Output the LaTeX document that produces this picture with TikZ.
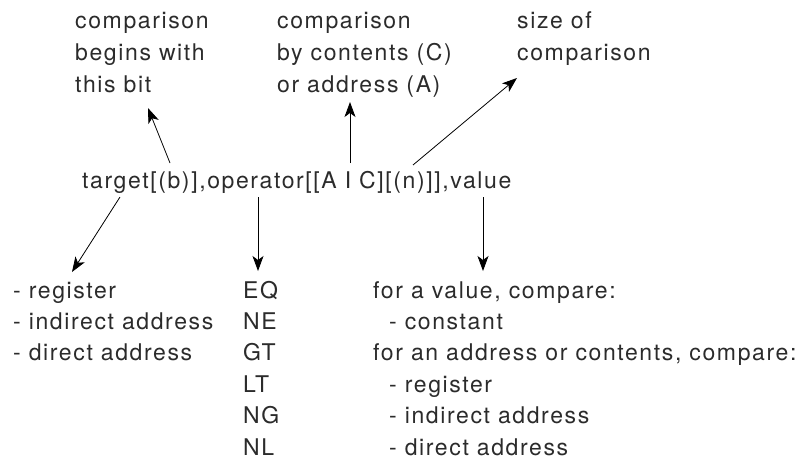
\documentclass[tikz,border=0pt]{standalone}
\usepackage{fontspec}
\setmainfont{TeX Gyre Heros}[LetterSpace=7]
\usepackage{xcolor}
\usetikzlibrary{arrows.meta,positioning,calc}
\definecolor{inkgray}{HTML}{2B2B2B}

\begin{document}
\begin{tikzpicture}[
		x=1pt, y=-1pt,
		txt/.style={anchor=base west, inner sep=0pt, text=inkgray, font=\fontsize{23}{27}\selectfont},
		pointer/.style={-{Stealth[length=15pt,width=11pt,inset=4pt]}, line width=0.8pt},
		]
	\useasboundingbox (0,0) rectangle (809,461);

	% --- notes above ---
	\node[txt] (bitA) at (75,28) {comparison};
	\node[txt] (bitB) at (75,60) {begins with};
	\node[txt] (bitC) at (75,92) {this bit};

	\node[txt] (modeA) at (277,28) {comparison};
	\node[txt] (modeB) at (277,60) {by contents (C)};
	\node[txt] (modeC) at (277,92) {or address (A)};

	\node[txt] (sizeA) at (517,28) {size of};
	\node[txt] (sizeB) at (517,60) {comparison};

	% --- the format line ---
	\node[txt] (fmt) at (82,188) {target[(b)],operator[[A I C][(n)]],value};

	% --- lists below ---
	\node[txt] (tgtA) at (13,298) {- register};
	\node[txt] (tgtB) at (13,329.4) {- indirect address};
	\node[txt] (tgtC) at (13,360.8) {- direct address};

	\node[txt] (opEQ) at (243,298) {EQ};
	\node[txt] (opNE) at (243,329.4) {NE};
	\node[txt] (opGT) at (243,360.8) {GT};
	\node[txt] (opLT) at (243,392.2) {LT};
	\node[txt] (opNG) at (243,423.6) {NG};
	\node[txt] (opNL) at (243,455) {NL};

	\node[txt] (valA) at (373,298) {for a value, compare:};
	\node[txt] (valB) at (389,329.4) {- constant};
	\node[txt] (valC) at (373,360.8) {for an address or contents, compare:};
	\node[txt] (valD) at (389,392.2) {- register};
	\node[txt] (valE) at (389,423.6) {- indirect address};
	\node[txt] (valF) at (389,455) {- direct address};

	% ends of the arrows
	\coordinate (bitFrom) at (170,163);
	\coordinate (bitTo) at (148,108);
	\coordinate (modeFrom) at (350,163);
	\coordinate (modeTo) at (350,102);
	\coordinate (sizeFrom) at (413,165);
	\coordinate (sizeTo) at (517,78);
	\coordinate (tgtFrom) at (120,197);
	\coordinate (tgtTo) at (72,272);
	\coordinate (opFrom) at (258,197);
	\coordinate (opTo) at (258,271);
	\coordinate (valFrom) at (483,197);
	\coordinate (valTo) at (483,271);

	% Arrows up
	\draw[pointer] (bitFrom) -- (bitTo);
	\draw[pointer] (modeFrom) -- (modeTo);
	\draw[pointer] (sizeFrom) -- (sizeTo);

	% Arrows down
	\draw[pointer] (tgtFrom) -- (tgtTo);
	\draw[pointer] (opFrom) -- (opTo);
	\draw[pointer] (valFrom) -- (valTo);

\end{tikzpicture}
\end{document}
